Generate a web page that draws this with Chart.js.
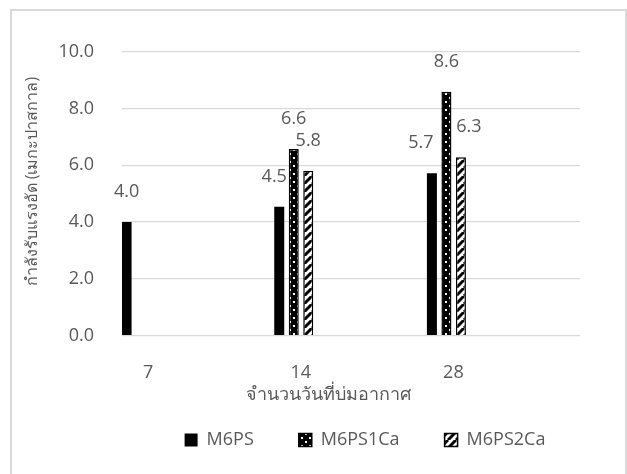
<!DOCTYPE html>
<html>
<head>
<meta charset="utf-8">
<script src="https://cdn.jsdelivr.net/npm/chart.js@4.4.0/dist/chart.umd.min.js"></script>
<style>
html,body{margin:0;padding:0;background:#fff;}
canvas{display:block;}
</style>
</head>
<body>
<canvas id="c" width="627" height="474"></canvas>
<script>
// ---- data ----
const categories = ['7', '14', '28'];
const seriesNames = ['M6PS', 'M6PS1Ca', 'M6PS2Ca'];
const m6ps    = [4.0, 4.54, 5.72];
const m6ps1ca = [null, 6.57, 8.59];
const m6ps2ca = [null, 5.81, 6.28];
const yTickValues = [0, 2, 4, 6, 8, 10];
const xAxisTitle = 'จำนวนวันที่บ่มอากาศ';
const yAxisTitle = 'กำลังรับแรงอัด (เมกะปาสกาล)';

// ---- styles ----
const FONT = "'Open Sans', 'Noto Sans', sans-serif";
const TEXT = '#595959';
const GRID = '#d9d9d9';
const labelShift = {'0-1': -5, '0-2': -11, '2-2': 8};

function makeDots() {
  const c = document.createElement('canvas'); c.width = 8; c.height = 8;
  const g = c.getContext('2d');
  g.fillStyle = '#000'; g.fillRect(0, 0, 8, 8);
  g.fillStyle = '#fff'; g.fillRect(1, 1, 2, 2); g.fillRect(5, 5, 2, 2);
  return g.createPattern(c, 'repeat');
}
function makeStripes() {
  const c = document.createElement('canvas'); c.width = 8; c.height = 8;
  const g = c.getContext('2d');
  g.fillStyle = '#fff'; g.fillRect(0, 0, 8, 8);
  g.strokeStyle = '#000'; g.lineWidth = 3;
  for (const o of [-8, 0, 8]) {
    g.beginPath(); g.moveTo(o, 8); g.lineTo(o + 8, 0); g.stroke();
  }
  return g.createPattern(c, 'repeat');
}

const toPoints = arr => arr.map((v, i) => ({x: i, y: v}));

const frame = {
  id: 'frame',
  beforeDraw(chart) {
    const ctx = chart.ctx;
    ctx.save();
    ctx.strokeStyle = GRID; ctx.lineWidth = 2;
    ctx.strokeRect(11, 10, 615, 470);
    ctx.restore();
  }
};

const valueLabels = {
  id: 'valueLabels',
  afterDatasetsDraw(chart) {
    const ctx = chart.ctx;
    ctx.save();
    ctx.font = '18px ' + FONT;
    ctx.fillStyle = TEXT;
    ctx.textAlign = 'center';
    ctx.textBaseline = 'middle';
    chart.data.datasets.forEach((ds, di) => {
      const meta = chart.getDatasetMeta(di);
      meta.data.forEach((el, i) => {
        const v = ds.data[i].y;
        if (v === null || v === undefined) return;
        ctx.fillText(v.toFixed(1), el.x + (labelShift[di + '-' + i] || 0), el.y - 30);
      });
    });
    ctx.restore();
  }
};

const axisTitles = {
  id: 'axisTitles',
  afterDraw(chart) {
    const ctx = chart.ctx, a = chart.chartArea;
    ctx.save();
    ctx.fillStyle = TEXT;
    ctx.textAlign = 'center';
    ctx.textBaseline = 'middle';
    ctx.font = '18px ' + FONT;
    ctx.fillText(xAxisTitle, a.left + 206, a.bottom + 59);
    ctx.font = '16px ' + FONT;
    ctx.translate(a.left - 90, a.top + 130);
    ctx.rotate(-Math.PI / 2);
    ctx.fillText(yAxisTitle, 0, 0);
    ctx.restore();
  }
};

const legendShift = {
  id: 'legendShift',
  afterLayout(chart) {
    const lg = chart.legend;
    if (!lg) return;
    const dx = 365 - (lg.left + lg.right) / 2;
    const dy = 386 - lg.top;
    lg.left += dx; lg.right += dx;
    lg.top += dy; lg.bottom += dy;
  }
};

new Chart(document.getElementById('c'), {
  type: 'bar',
  data: {
    datasets: [
      {label: seriesNames[0], data: toPoints(m6ps), backgroundColor: '#000', borderColor: '#000', borderWidth: 0},
      {label: seriesNames[1], data: toPoints(m6ps1ca), backgroundColor: makeDots(), borderColor: '#000', borderWidth: 1.5},
      {label: seriesNames[2], data: toPoints(m6ps2ca), backgroundColor: makeStripes(), borderColor: '#000', borderWidth: 1.5}
    ]
  },
  options: {
    responsive: false,
    animation: false,
    devicePixelRatio: 1,
    categoryPercentage: 0.285,
    barPercentage: 0.69,
    layout: {padding: {top: 51.7, right: 47, bottom: 8.3, left: 0}},
    scales: {
      x: {
        type: 'linear',
        min: -0.125,
        max: 2.875,
        offset: false,
        grid: {display: false, offset: false},
        border: {display: false},
        afterBuildTicks: s => { s.ticks = categories.map((_, i) => ({value: i})); },
        afterFit: s => { s.height = 60; },
        ticks: {
          callback: (v, i) => categories[i],
          labelOffset: 7,
          padding: 18,
          maxRotation: 0,
          autoSkip: false,
          color: TEXT,
          font: {size: 18, family: FONT}
        }
      },
      y: {
        min: 0,
        max: 10,
        afterBuildTicks: s => { s.ticks = yTickValues.map(v => ({value: v})); },
        afterFit: s => { s.width = 122; },
        grid: {color: GRID, lineWidth: 1.3, drawTicks: false},
        border: {display: false},
        ticks: {
          callback: v => v.toFixed(1),
          padding: 28,
          color: TEXT,
          font: {size: 18, family: FONT}
        }
      }
    },
    plugins: {
      legend: {
        position: 'bottom',
        maxHeight: 70,
        labels: {
          boxWidth: 13,
          boxHeight: 13,
          padding: 45,
          color: TEXT,
          font: {size: 18, family: FONT}
        }
      },
      tooltip: {enabled: false}
    }
  },
  plugins: [frame, valueLabels, axisTitles, legendShift]
});
</script>
</body>
</html>
